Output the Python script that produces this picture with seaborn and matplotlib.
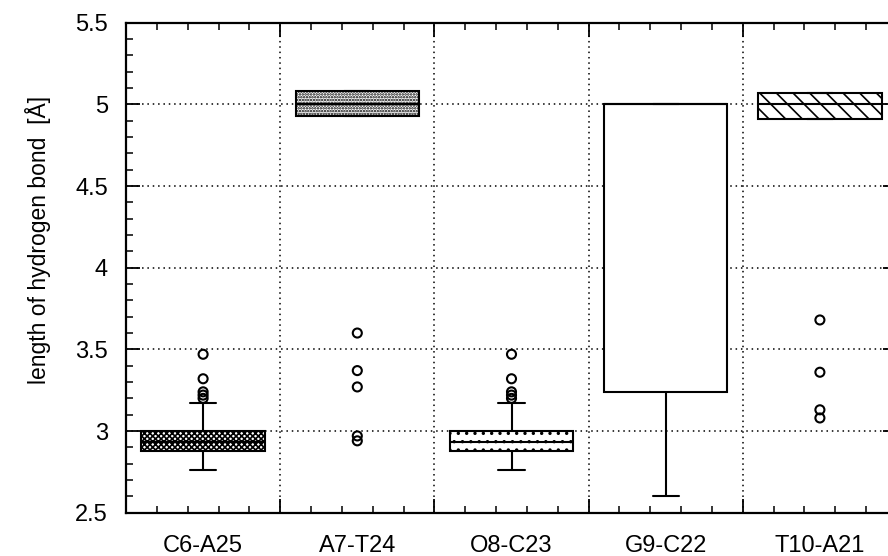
import numpy as np
import pandas as pd
import matplotlib
matplotlib.use("Agg")
import matplotlib.pyplot as plt
import seaborn as sns

# ---- data ----
categories = ["C6-A25", "A7-T24", "O8-C23", "G9-C22", "T10-A21"]
whisker_low = [2.76, 4.93, 2.76, 2.60, 4.91]
quart_1 = [2.88, 4.93, 2.88, 3.24, 4.91]
medians = [2.93, 5.00, 2.93, 5.00, 5.00]
quart_3 = [3.00, 5.08, 3.00, 5.00, 5.07]
whisker_high = [3.17, 5.08, 3.17, 5.00, 5.07]
outliers_c6 = [3.47, 3.32, 3.24, 3.22, 3.20]
outliers_a7 = [3.60, 3.37, 3.27, 2.97, 2.94]
outliers_o8 = [3.47, 3.32, 3.24, 3.22, 3.20]
outliers_g9 = []
outliers_t10 = [3.68, 3.36, 3.13, 3.08]
hatches = ["xxxxxx", "......", "..", "", "\\\\"]
y_ticks = [2.5, 3.0, 3.5, 4.0, 4.5, 5.0, 5.5]
y_tick_labels = ["2.5", "3", "3.5", "4", "4.5", "5", "5.5"]

sns.set_theme(style="white")
plt.rcParams["font.family"] = ["Liberation Sans", "DejaVu Sans"]
plt.rcParams["hatch.linewidth"] = 1.2
plt.rcParams["hatch.color"] = "black"

# long-form tables
box_rows = []
for c, a, b, m, d, e in zip(categories, whisker_low, quart_1, medians, quart_3, whisker_high):
    for v in (a, b, m, d, e):
        box_rows.append({"pair": c, "length": v})
box_df = pd.DataFrame(box_rows)

out_rows = []
for c, vals in zip(categories, [outliers_c6, outliers_a7, outliers_o8, outliers_g9, outliers_t10]):
    for v in vals:
        out_rows.append({"pair": c, "length": v})
out_df = pd.DataFrame(out_rows)

fig = plt.figure(figsize=(8.88, 5.56), dpi=100)
ax = fig.add_axes([126 / 888, 1 - 512.7 / 556, (897 - 126) / 888, (512.7 - 22.7) / 556])

sns.boxplot(data=box_df, x="pair", y="length", order=categories, ax=ax,
            whis=(0, 100), width=0.8, color="white", linecolor="black",
            linewidth=1.5, showfliers=False, capwidths=0.17, zorder=3)
for patch, h in zip(ax.patches, hatches):
    patch.set_hatch(h)
    patch.set_edgecolor("black")

n_before = len(ax.collections)
sns.stripplot(data=out_df, x="pair", y="length", order=categories, ax=ax,
              jitter=False, size=6.5, color="black", zorder=4)
for coll in ax.collections[n_before:]:
    coll.set_facecolor("none")
    coll.set_edgecolor("black")
    coll.set_linewidth(1.5)

ncat = len(categories)
ax.set_xlim(-0.5, ncat - 0.5)
ax.set_ylim(y_ticks[0], y_ticks[-1])

boundaries = np.arange(ncat + 1) - 0.5
ax.set_xticks(boundaries)
ax.set_xticklabels([])
ax.set_xticks(np.arange(-0.5, ncat - 0.5 + 1e-9, 0.2), minor=True)
ax.set_yticks(y_ticks)
ax.set_yticklabels(y_tick_labels)
ax.set_yticks(np.arange(2.5, 5.5 + 1e-9, 0.1), minor=True)

ax.tick_params(axis="both", which="major", direction="in", length=10, width=1.3,
               color="black", top=True, bottom=True, left=True, right=True)
ax.tick_params(axis="both", which="minor", direction="in", length=5, width=1.1,
               color="black", top=True, bottom=True, left=True, right=True)
ax.tick_params(axis="y", which="major", labelsize=17, pad=13, labelcolor="black")

ax.grid(True, which="major", color="black", linestyle=(0, (1, 2.5)), linewidth=1.1, zorder=0)
ax.set_axisbelow(True)

sec = ax.secondary_xaxis("bottom")
sec.set_xticks(np.arange(ncat))
sec.set_xticklabels(categories)
sec.tick_params(length=0, pad=16, labelsize=17, labelcolor="black")
sec.spines["bottom"].set_visible(False)

ax.set_xlabel("")
ax.set_ylabel("length of hydrogen bond  [Å]", fontsize=16.5, color="black")
ax.yaxis.set_label_coords(-0.097, 0.556)

for s in ax.spines.values():
    s.set_color("black")
    s.set_linewidth(1.6)

fig.savefig("out.png", dpi=100, facecolor="white")
